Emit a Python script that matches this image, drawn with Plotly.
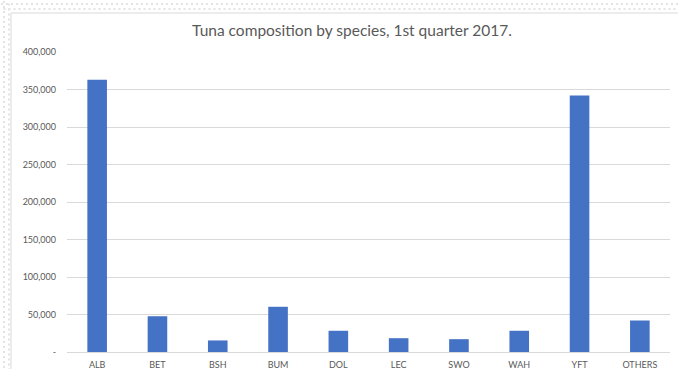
import plotly.graph_objects as go

# Catch by species (1st quarter 2017)
species = ["ALB", "BET", "BSH", "BUM", "DOL", "LEC", "SWO", "WAH", "YFT", "OTHERS"]
catch = [363000, 47700, 15400, 60300, 28300, 18400, 17100, 28300, 342000, 42000]

y_ticks = [0, 50000, 100000, 150000, 200000, 250000, 300000, 350000, 400000]
y_tick_text = ["-", "50,000", "100,000", "150,000", "200,000",
               "250,000", "300,000", "350,000", "400,000"]

W, H = 678, 369
ML, MR, MT, MB = 67, 8, 52, 17
PW, PH = W - ML - MR, H - MT - MB


def px_x(px):
    return (px - ML) / PW


def px_y(py):
    return (H - MB - py) / PH


TEXT = "#595959"
GRID = "#d9d9d9"
FONT = "Lato, 'Open Sans', sans-serif"

fig = go.Figure(go.Bar(
    x=species,
    y=catch,
    marker=dict(color="#4472C4", line=dict(width=0)),
    hoverinfo="x+y",
))

shapes = []
# dotted backdrop around the chart area
dot = dict(color="#e3e3e3", width=2, dash="2px,3px")
for yy, x0 in [(4, 1), (9, 3.5)]:
    shapes.append(dict(type="line", xref="paper", yref="paper",
                       x0=px_x(x0), x1=px_x(W + 5), y0=px_y(yy), y1=px_y(yy), line=dot))
for xx, y0 in [(4, 1), (9, 3.5)]:
    shapes.append(dict(type="line", xref="paper", yref="paper",
                       x0=px_x(xx), x1=px_x(xx), y0=px_y(y0), y1=px_y(H + 5), line=dot))
# chart area frame
shapes.append(dict(type="rect", xref="paper", yref="paper", layer="below",
                   x0=px_x(11), x1=px_x(W + 10), y0=px_y(13), y1=px_y(H + 10),
                   fillcolor="white", line=dict(color=GRID, width=1)))

fig.update_layout(
    width=W, height=H,
    margin=dict(l=ML, r=MR, t=MT, b=MB, pad=0, autoexpand=False),
    paper_bgcolor="white",
    plot_bgcolor="rgba(0,0,0,0)",
    font=dict(family=FONT, color=TEXT, size=9),
    title=dict(
        text="Tuna composition by species, 1st quarter 2017.",
        x=352 / W, xref="container", xanchor="center",
        y=1 - 31 / H, yref="container", yanchor="middle",
        font=dict(family=FONT, size=15.5, color=TEXT),
    ),
    bargap=0.675,
    showlegend=False,
    shapes=shapes,
    xaxis=dict(
        showgrid=False, showline=True, linecolor=GRID, linewidth=1,
        ticks="", tickfont=dict(size=9, color=TEXT), ticklabelstandoff=4,
        automargin=False,
    ),
    yaxis=dict(
        range=[0, 400000], tickvals=y_ticks, ticktext=y_tick_text,
        showgrid=True, gridcolor=GRID, gridwidth=1,
        zeroline=False, showline=False, ticks="",
        tickfont=dict(size=9, color=TEXT), ticklabelstandoff=10,
        automargin=False,
    ),
)

fig.write_html("out.html")
